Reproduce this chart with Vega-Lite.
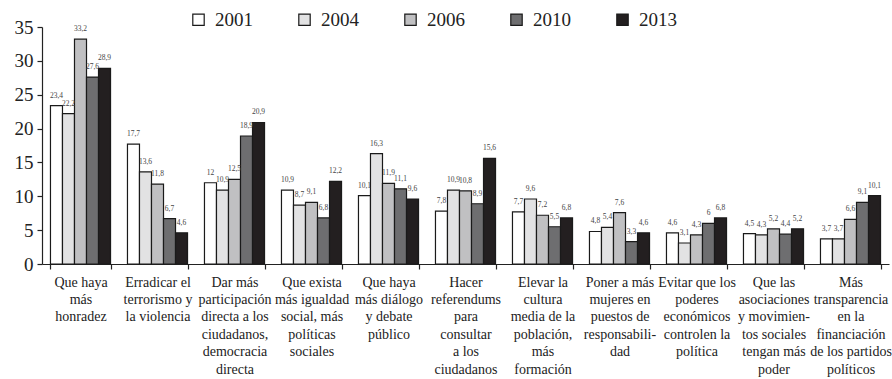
{
  "$schema": "https://vega.github.io/schema/vega-lite/v6.json",
  "width": 847,
  "height": 237,
  "autosize": "none",
  "padding": {"left": 42, "top": 27, "right": 3, "bottom": 115},
  "background": "white",
  "config": {
    "view": {"stroke": null},
    "font": "'Times New Roman', Times, Tinos, 'Liberation Serif', serif"
  },
  "data": {
    "values": [
      {"g": 1, "cat": "Que haya|más|honradez", "year": "2001", "v": 23.4},
      {"g": 1, "cat": "Que haya|más|honradez", "year": "2004", "v": 22.2},
      {"g": 1, "cat": "Que haya|más|honradez", "year": "2006", "v": 33.2},
      {"g": 1, "cat": "Que haya|más|honradez", "year": "2010", "v": 27.6},
      {"g": 1, "cat": "Que haya|más|honradez", "year": "2013", "v": 28.9},
      {"g": 2, "cat": "Erradicar el|terrorismo y|la violencia", "year": "2001", "v": 17.7},
      {"g": 2, "cat": "Erradicar el|terrorismo y|la violencia", "year": "2004", "v": 13.6},
      {"g": 2, "cat": "Erradicar el|terrorismo y|la violencia", "year": "2006", "v": 11.8},
      {"g": 2, "cat": "Erradicar el|terrorismo y|la violencia", "year": "2010", "v": 6.7},
      {"g": 2, "cat": "Erradicar el|terrorismo y|la violencia", "year": "2013", "v": 4.6},
      {"g": 3, "cat": "Dar más|participación|directa a los|ciudadanos,|democracia|directa", "year": "2001", "v": 12},
      {"g": 3, "cat": "Dar más|participación|directa a los|ciudadanos,|democracia|directa", "year": "2004", "v": 10.9},
      {"g": 3, "cat": "Dar más|participación|directa a los|ciudadanos,|democracia|directa", "year": "2006", "v": 12.5},
      {"g": 3, "cat": "Dar más|participación|directa a los|ciudadanos,|democracia|directa", "year": "2010", "v": 18.9},
      {"g": 3, "cat": "Dar más|participación|directa a los|ciudadanos,|democracia|directa", "year": "2013", "v": 20.9},
      {"g": 4, "cat": "Que exista|más igualdad|social, más|políticas|sociales", "year": "2001", "v": 10.9},
      {"g": 4, "cat": "Que exista|más igualdad|social, más|políticas|sociales", "year": "2004", "v": 8.7},
      {"g": 4, "cat": "Que exista|más igualdad|social, más|políticas|sociales", "year": "2006", "v": 9.1},
      {"g": 4, "cat": "Que exista|más igualdad|social, más|políticas|sociales", "year": "2010", "v": 6.8},
      {"g": 4, "cat": "Que exista|más igualdad|social, más|políticas|sociales", "year": "2013", "v": 12.2},
      {"g": 5, "cat": "Que haya|más diálogo|y debate|público", "year": "2001", "v": 10.1},
      {"g": 5, "cat": "Que haya|más diálogo|y debate|público", "year": "2004", "v": 16.3},
      {"g": 5, "cat": "Que haya|más diálogo|y debate|público", "year": "2006", "v": 11.9},
      {"g": 5, "cat": "Que haya|más diálogo|y debate|público", "year": "2010", "v": 11.1},
      {"g": 5, "cat": "Que haya|más diálogo|y debate|público", "year": "2013", "v": 9.6},
      {"g": 6, "cat": "Hacer|referendums|para|consultar|a los|ciudadanos", "year": "2001", "v": 7.8},
      {"g": 6, "cat": "Hacer|referendums|para|consultar|a los|ciudadanos", "year": "2004", "v": 10.9},
      {"g": 6, "cat": "Hacer|referendums|para|consultar|a los|ciudadanos", "year": "2006", "v": 10.8},
      {"g": 6, "cat": "Hacer|referendums|para|consultar|a los|ciudadanos", "year": "2010", "v": 8.9},
      {"g": 6, "cat": "Hacer|referendums|para|consultar|a los|ciudadanos", "year": "2013", "v": 15.6},
      {"g": 7, "cat": "Elevar la|cultura|media de la|población,|más|formación", "year": "2001", "v": 7.7},
      {"g": 7, "cat": "Elevar la|cultura|media de la|población,|más|formación", "year": "2004", "v": 9.6},
      {"g": 7, "cat": "Elevar la|cultura|media de la|población,|más|formación", "year": "2006", "v": 7.2},
      {"g": 7, "cat": "Elevar la|cultura|media de la|población,|más|formación", "year": "2010", "v": 5.5},
      {"g": 7, "cat": "Elevar la|cultura|media de la|población,|más|formación", "year": "2013", "v": 6.8},
      {"g": 8, "cat": "Poner a más|mujeres en|puestos de|responsabili-|dad", "year": "2001", "v": 4.8},
      {"g": 8, "cat": "Poner a más|mujeres en|puestos de|responsabili-|dad", "year": "2004", "v": 5.4},
      {"g": 8, "cat": "Poner a más|mujeres en|puestos de|responsabili-|dad", "year": "2006", "v": 7.6},
      {"g": 8, "cat": "Poner a más|mujeres en|puestos de|responsabili-|dad", "year": "2010", "v": 3.3},
      {"g": 8, "cat": "Poner a más|mujeres en|puestos de|responsabili-|dad", "year": "2013", "v": 4.6},
      {"g": 9, "cat": "Evitar que los|poderes|económicos|controlen la|política", "year": "2001", "v": 4.6},
      {"g": 9, "cat": "Evitar que los|poderes|económicos|controlen la|política", "year": "2004", "v": 3.1},
      {"g": 9, "cat": "Evitar que los|poderes|económicos|controlen la|política", "year": "2006", "v": 4.3},
      {"g": 9, "cat": "Evitar que los|poderes|económicos|controlen la|política", "year": "2010", "v": 6},
      {"g": 9, "cat": "Evitar que los|poderes|económicos|controlen la|política", "year": "2013", "v": 6.8},
      {"g": 10, "cat": "Que las|asociaciones|y movimien-|tos sociales|tengan más|poder", "year": "2001", "v": 4.5},
      {"g": 10, "cat": "Que las|asociaciones|y movimien-|tos sociales|tengan más|poder", "year": "2004", "v": 4.3},
      {"g": 10, "cat": "Que las|asociaciones|y movimien-|tos sociales|tengan más|poder", "year": "2006", "v": 5.2},
      {"g": 10, "cat": "Que las|asociaciones|y movimien-|tos sociales|tengan más|poder", "year": "2010", "v": 4.4},
      {"g": 10, "cat": "Que las|asociaciones|y movimien-|tos sociales|tengan más|poder", "year": "2013", "v": 5.2},
      {"g": 11, "cat": "Más|transparencia|en la|financiación|de los partidos|políticos", "year": "2001", "v": 3.7},
      {"g": 11, "cat": "Más|transparencia|en la|financiación|de los partidos|políticos", "year": "2004", "v": 3.7},
      {"g": 11, "cat": "Más|transparencia|en la|financiación|de los partidos|políticos", "year": "2006", "v": 6.6},
      {"g": 11, "cat": "Más|transparencia|en la|financiación|de los partidos|políticos", "year": "2010", "v": 9.1},
      {"g": 11, "cat": "Más|transparencia|en la|financiación|de los partidos|políticos", "year": "2013", "v": 10.1}
    ]
  },
  "transform": [
    {"calculate": "replace(toString(datum.v), '.', ',')", "as": "lab"}
  ],
  "encoding": {
    "x": {
      "field": "cat",
      "type": "nominal",
      "sort": {"field": "g"},
      "scale": {"paddingInner": 0.22, "paddingOuter": 0.11},
      "axis": {
        "title": null,
        "labelAngle": 0,
        "labelExpr": "split(datum.label, '|')",
        "labelFontSize": 14,
        "labelLineHeight": 17.4,
        "labelColor": "#222",
        "labelPadding": 6,
        "labelLimit": 0,
        "labelBaseline": "top",
        "tickBand": "extent",
        "tickSize": 5,
        "tickColor": "#222",
        "domainColor": "#222",
        "domainWidth": 1.2,
        "tickWidth": 1.2
      }
    },
    "xOffset": {"field": "year", "type": "nominal", "scale": {"paddingInner": 0, "paddingOuter": 0}},
    "y": {
      "field": "v",
      "type": "quantitative",
      "scale": {"domain": [0, 35], "nice": false},
      "axis": {
        "title": null,
        "values": [0, 5, 10, 15, 20, 25, 30, 35],
        "grid": false,
        "labelFontSize": 19,
        "labelColor": "#222",
        "labelPadding": 4,
        "tickSize": 5,
        "tickColor": "#222",
        "domainColor": "#222",
        "domainWidth": 1.2,
        "tickWidth": 1.2
      }
    }
  },
  "layer": [
    {
      "mark": {"type": "bar", "stroke": "#1a1a1a", "strokeWidth": 1.2},
      "encoding": {
        "fill": {
          "field": "year",
          "type": "nominal",
          "scale": {
            "domain": ["2001", "2004", "2006", "2010", "2013"],
            "range": ["#ffffff", "#e2e2e3", "#c0c0c2", "#6e6e70", "#231f20"]
          },
          "legend": {
            "title": null,
            "orient": "none",
            "direction": "horizontal",
            "legendX": 147,
            "legendY": -17,
            "symbolType": "square",
            "symbolSize": 130,
            "symbolStrokeColor": "#1a1a1a",
            "symbolStrokeWidth": 1.2,
            "labelFontSize": 19,
            "labelColor": "#222",
            "labelOffset": 7,
            "columnPadding": 42
          }
        }
      }
    },
    {
      "mark": {"type": "text", "dy": -10, "fontSize": 7.5, "color": "#444"},
      "encoding": {
        "text": {"field": "lab"}
      }
    }
  ]
}
